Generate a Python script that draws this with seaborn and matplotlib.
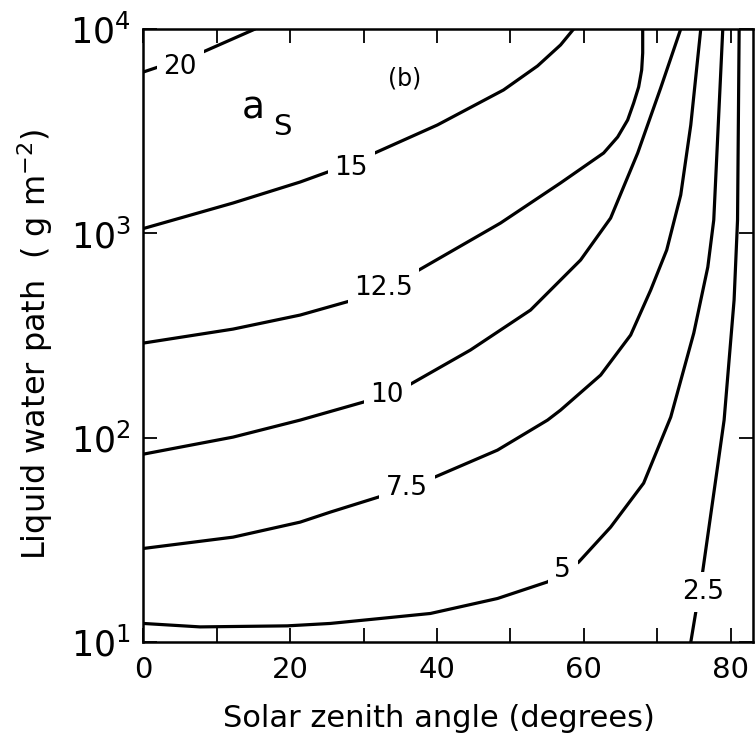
import numpy as np
import pandas as pd
import matplotlib
matplotlib.use("Agg")
import matplotlib.pyplot as plt
import seaborn as sns
from matplotlib.ticker import NullLocator, FixedLocator

sns.set_theme(style="white")
plt.rcParams['font.family'] = ['DejaVu Sans']
plt.rcParams['mathtext.default'] = 'regular'
plt.rcParams['text.color'] = 'black'
plt.rcParams['axes.labelcolor'] = 'black'
plt.rcParams['xtick.color'] = 'black'
plt.rcParams['ytick.color'] = 'black'

# ---- data (solar zenith angle in degrees, LWP in g m^-2) ----
levels = ["20", "15", "12.5", "10", "7.5", "5", "2.5"]

angle_20 = [0, 8.12, 15.2]
lwp_20 = [6166, 7727, 10000]

angle_15 = [0, 12.21, 21.35, 25.85, 30.9, 40.04, 49.05, 53.68, 56.82, 58.6]
lwp_15 = [1057, 1409, 1785, 2043, 2420, 3393, 5034, 6597, 8360, 10000]

angle_125 = [0, 12.21, 21.35, 28.58, 37.04, 48.64, 56.81, 62.69, 64.60, 65.96,
             66.78, 67.46, 67.87, 68.01, 68.01]
lwp_125 = [290.8, 340.4, 398.7, 472.1, 647.1, 1124, 1765, 2475, 2964, 3589,
           4347, 5208, 6306, 7638, 10000]

angle_10 = [0, 12.21, 21.35, 29.95, 35.68, 44.54, 52.73, 59.55, 63.64, 67.33, 70.46, 73.19]
lwp_10 = [83.2, 100.8, 122.1, 149.5, 177.1, 268.8, 421.7, 741.2, 1189, 2475, 5149, 10000]

angle_75 = [0, 12.21, 21.35, 25.44, 31.99, 39.77, 48.23, 55.05, 56.82, 62.28,
            66.37, 69.1, 71.28, 73.19, 74.56, 75.92]
lwp_75 = [28.75, 32.66, 38.68, 43.28, 51.26, 64.44, 87.06, 122.1, 136.6, 202.7,
          318.3, 528.4, 829.4, 1542, 3393, 10000]

angle_5 = [0, 7.71, 19.58, 25.44, 32.26, 39.09, 48.23, 55.05, 59.28, 63.64,
           68.14, 71.83, 74.97, 76.88, 77.69, 78.92]
lwp_5 = [12.35, 11.88, 12.02, 12.35, 13.06, 13.82, 16.36, 19.73, 24.64, 36.55,
         60.02, 126.3, 325.5, 684.7, 1163, 10000]

angle_25 = [74.56, 75.24, 76.15, 78.2, 79.1, 80.46, 80.93, 81.15]
lwp_25 = [10, 14.03, 21.77, 71.88, 122.1, 472.1, 1163, 10000]

# contour label positions
label_angle = [5.0, 28.3, 32.7, 33.2, 35.9, 57.1, 76.2]
label_lwp = [6520, 2100, 541, 162, 56.8, 22.5, 17.6]

x_ticks = [0, 10, 20, 30, 40, 50, 60, 70, 80]
x_ticklabels = ["0", "", "20", "", "40", "", "60", "", "80"]
y_ticks = [10, 100, 1000, 10000]
y_ticklabels = [r"$10^1$", r"$10^2$", r"$10^3$", r"$10^4$"]

series = [(angle_20, lwp_20), (angle_15, lwp_15), (angle_125, lwp_125),
          (angle_10, lwp_10), (angle_75, lwp_75), (angle_5, lwp_5), (angle_25, lwp_25)]

frames = []
for lev, (a, w) in zip(levels, series):
    frames.append(pd.DataFrame({"angle": a, "lwp": w, "level": lev}))
df = pd.concat(frames, ignore_index=True)

# ---- figure ----
fig = plt.figure(figsize=(7.55, 7.45), dpi=100)
ax = fig.add_axes([0.190, 0.138, 0.807, 0.823])

sns.lineplot(data=df, x="angle", y="lwp", units="level", estimator=None,
             sort=False, color="black", linewidth=2.3, legend=False, ax=ax)

ax.set_yscale("log")
ax.set_xlim(0, 83)
ax.set_ylim(10, 1e4)

for lab, xa, ya in zip(levels, label_angle, label_lwp):
    ax.text(xa, ya, lab, ha="center", va="center", fontsize=19, color="black",
            bbox=dict(boxstyle="square,pad=0.25", fc="white", ec="none"), zorder=5)

ax.set_xticks(x_ticks)
ax.set_xticklabels(x_ticklabels)
ax.yaxis.set_major_locator(FixedLocator(y_ticks))
ax.set_yticklabels(y_ticklabels)
ax.yaxis.set_minor_locator(NullLocator())
ax.xaxis.set_minor_locator(NullLocator())

ax.tick_params(axis="x", which="major", direction="in", top=True, bottom=True,
               length=10, width=1.3, labelsize=21, pad=10, colors="black")
ax.tick_params(axis="y", which="major", direction="in", left=True, right=True,
               length=10, width=1.3, labelsize=25, pad=9, colors="black")

for sp in ax.spines.values():
    sp.set_color("black")
    sp.set_linewidth(1.8)

ax.set_xlabel("Solar zenith angle (degrees)", fontsize=22, color="black")
ax.set_ylabel(r"Liquid water path  ( g m$^{-2}$)", fontsize=23, color="black")
ax.xaxis.set_label_coords(0.485, -0.124)
ax.yaxis.set_label_coords(-0.178, 0.485)
ax.xaxis.label.set_va("center")
ax.yaxis.label.set_va("center")

ax.text(0.18, 0.87, "a", transform=ax.transAxes, fontsize=27, ha="center", va="center")
ax.text(0.228, 0.84, "S", transform=ax.transAxes, fontsize=21, ha="center", va="center")
ax.text(0.429, 0.92, "(b)", transform=ax.transAxes, fontsize=17, ha="center", va="center")

fig.savefig("out.png", dpi=100)
